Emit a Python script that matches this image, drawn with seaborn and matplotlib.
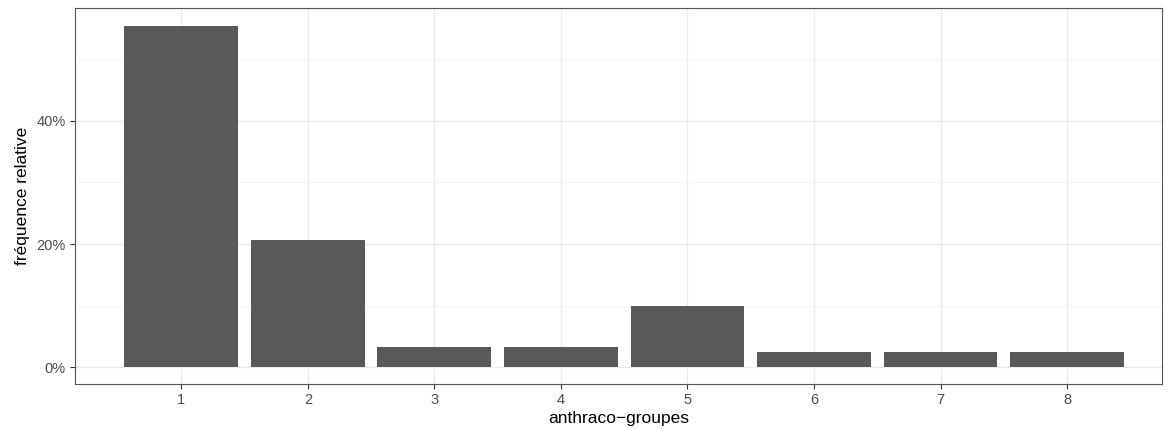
import matplotlib
matplotlib.use("Agg")
import matplotlib.pyplot as plt
import seaborn as sns
import pandas as pd
from matplotlib.ticker import FuncFormatter, MultipleLocator

groups = ["1", "2", "3", "4", "5", "6", "7", "8"]
counts = [67, 25, 4, 4, 12, 3, 3, 3]
total = sum(counts)
freq = [c / total * 100 for c in counts]

df = pd.DataFrame({"groupe": groups, "freq": freq})

sns.set_theme(style="white")
plt.rcParams['font.family'] = ['Liberation Sans', 'DejaVu Sans']

fig = plt.figure(figsize=(11.72, 4.30), dpi=100)
ax = fig.add_axes([75/1172, 46/430, (1162-75)/1172, (384-8)/430])

sns.barplot(data=df, x="groupe", y="freq", color="#595959", saturation=1,
            width=0.9, ax=ax, zorder=3, edgecolor="none")

ax.set_xlim(-0.84, 7.75)
ax.set_ylim(-2.7, 58.3)
ax.yaxis.set_major_locator(MultipleLocator(20))
ax.yaxis.set_minor_locator(MultipleLocator(10))
ax.yaxis.set_major_formatter(FuncFormatter(lambda v, p: f"{v:.0f}%"))

ax.set_axisbelow(True)
ax.grid(True, which="major", axis="both", color="#EBEBEB", linewidth=1.0, zorder=0)
ax.grid(True, which="minor", axis="y", color="#F3F3F3", linewidth=0.6, zorder=0)

for s in ax.spines.values():
    s.set_color("#555555")
    s.set_linewidth(0.8)

ax.tick_params(axis="both", which="major", length=3.5, width=0.8, color="#333333",
               labelsize=10.5, labelcolor="#4D4D4D", pad=3, direction="out",
               bottom=True, left=True)
ax.tick_params(axis="y", which="minor", length=0, left=False)

ax.set_xlabel("anthraco\u2212groupes", fontsize=12.5, color="black", labelpad=3)
ax.set_ylabel("fréquence relative", fontsize=12.5, color="black", labelpad=5)

fig.savefig("out.png", dpi=100)
